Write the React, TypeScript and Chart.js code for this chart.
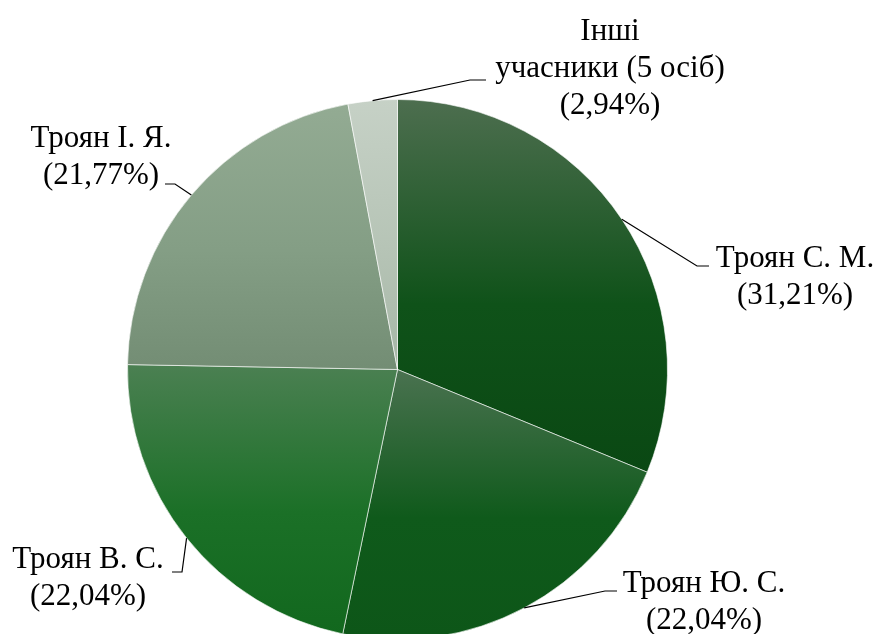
import React, { useEffect, useRef } from 'react';
import { Chart, registerables } from 'chart.js';

Chart.register(...registerables);

// ---- data ----
const categories: string[] = ['Троян С. М.', 'Троян Ю. С.', 'Троян В. С.', 'Троян І. Я.', 'Інші учасники (5 осіб)'];
const values: number[] = [31.21, 22.04, 22.04, 21.77, 2.94];

// ---- styles ----
const gradTop: string[] = ['#4d6e4f', '#4a7250', '#4b8052', '#93ab93', '#c6d1c6'];
const gradMid: string[] = ['#0f5219', '#0f5a1b', '#1b7027', '#849e85', '#b6c4b6'];
const gradBottom: string[] = ['#0a4813', '#0d5618', '#12681e', '#738d74', '#a6b6a6'];

// label layout: text center x, first baseline y, leader elbow & end
const labelLayout = [
  { cx: 795, base: 267, elbow: [697, 266], end: [709, 266], firstWords: 0 },
  { cx: 704, base: 592, elbow: [605, 591], end: [617, 591], firstWords: 0 },
  { cx: 88, base: 568, elbow: [182, 572], end: [172, 572], firstWords: 0 },
  { cx: 101, base: 147, elbow: [175, 184], end: [165, 184], firstWords: 0 },
  { cx: 610, base: 40, elbow: [470, 80], end: [486, 80], firstWords: 1 },
];

const FONT_FAMILY = '"Times New Roman", "Liberation Serif", "DejaVu Serif", serif';
const FONT = '31px ' + FONT_FAMILY;
const LINE_H = 37;

function fmtPct(v: number): string {
  return '(' + v.toFixed(2).replace('.', ',') + '%)';
}

function sliceGeom(chart: any, index: number) {
  const ca = chart.chartArea;
  const cx = (ca.left + ca.right) / 2;
  const cy = (ca.top + ca.bottom) / 2;
  const r = (Math.min(ca.right - ca.left, ca.bottom - ca.top) - 1) / 2;
  const total = values.reduce((a, b) => a + b, 0);
  let cum = 0;
  for (let i = 0; i < index; i++) cum += values[i];
  const a0 = -Math.PI / 2 + (cum / total) * Math.PI * 2;
  const a1 = a0 + (values[index] / total) * Math.PI * 2;
  let minY = cy;
  let maxY = cy;
  for (let k = 0; k <= 100; k++) {
    const a = a0 + ((a1 - a0) * k) / 100;
    const y = cy + r * Math.sin(a);
    if (y < minY) minY = y;
    if (y > maxY) maxY = y;
  }
  return { minY, maxY };
}

const labelPlugin = {
  id: 'pieLabels',
  afterDatasetsDraw(chart: any) {
    const ctx = chart.ctx as CanvasRenderingContext2D;
    const meta = chart.getDatasetMeta(0);
    ctx.save();
    meta.data.forEach((arc: any, i: number) => {
      const p = arc.getProps(['x', 'y', 'startAngle', 'endAngle', 'outerRadius'], true);
      const mid = (p.startAngle + p.endAngle) / 2;
      const sx = p.x + p.outerRadius * Math.cos(mid);
      const sy = p.y + p.outerRadius * Math.sin(mid);
      const L = labelLayout[i];
      ctx.strokeStyle = '#000000';
      ctx.lineWidth = 1.2;
      ctx.beginPath();
      ctx.moveTo(sx, sy);
      ctx.lineTo(L.elbow[0], L.elbow[1]);
      ctx.lineTo(L.end[0], L.end[1]);
      ctx.stroke();

      const name = categories[i];
      let lines: string[];
      if (L.firstWords > 0) {
        const words = name.split(' ');
        lines = [words.slice(0, L.firstWords).join(' '), words.slice(L.firstWords).join(' ')];
      } else {
        lines = [name];
      }
      lines.push(fmtPct(values[i]));
      ctx.fillStyle = '#000000';
      ctx.font = FONT;
      ctx.textAlign = 'center';
      ctx.textBaseline = 'alphabetic';
      lines.forEach((t, k) => {
        ctx.fillText(t, L.cx, L.base + k * LINE_H);
      });
    });
    ctx.restore();
  },
};

export default function App() {
  const ref = useRef<HTMLCanvasElement | null>(null);
  useEffect(() => {
    if (!ref.current) return;
    const chart = new Chart(ref.current, {
      type: 'pie',
      data: {
        labels: categories,
        datasets: [
          {
            data: values,
            backgroundColor: (c: any) => {
              const chart = c.chart;
              const i = c.dataIndex;
              if (!chart.chartArea || i === undefined) return gradTop[i ?? 0];
              const g = sliceGeom(chart, i);
              const grad = chart.ctx.createLinearGradient(0, g.minY, 0, g.maxY);
              grad.addColorStop(0, gradTop[i]);
              grad.addColorStop(0.55, gradMid[i]);
              grad.addColorStop(1, gradBottom[i]);
              return grad;
            },
            borderColor: 'rgba(255,255,255,0.6)',
            borderWidth: 1,
          },
        ],
      },
      options: {
        responsive: false,
        animation: false,
        layout: { padding: { left: 127, right: 210, top: 99, bottom: 1 } },
        plugins: {
          legend: { display: false },
          tooltip: { enabled: false },
        },
      },
      plugins: [labelPlugin],
    });
    let alive = true;
    if ((document as any).fonts && (document as any).fonts.load) {
      (document as any).fonts
        .load(FONT, 'Троян Інші 0123456789%')
        .then(() => {
          if (alive) chart.update();
        })
        .catch(() => {});
    }
    return () => {
      alive = false;
      chart.destroy();
    };
  }, []);
  return (
    <div style={{ position: 'fixed', left: 0, top: 0, width: 878, height: 641, background: '#ffffff', fontFamily: FONT_FAMILY }}>
      <canvas ref={ref} width={878} height={641} />
      <span style={{ position: 'absolute', left: -9999, top: 0, fontSize: 31 }}>Троян Інші (0,%)</span>
    </div>
  );
}
